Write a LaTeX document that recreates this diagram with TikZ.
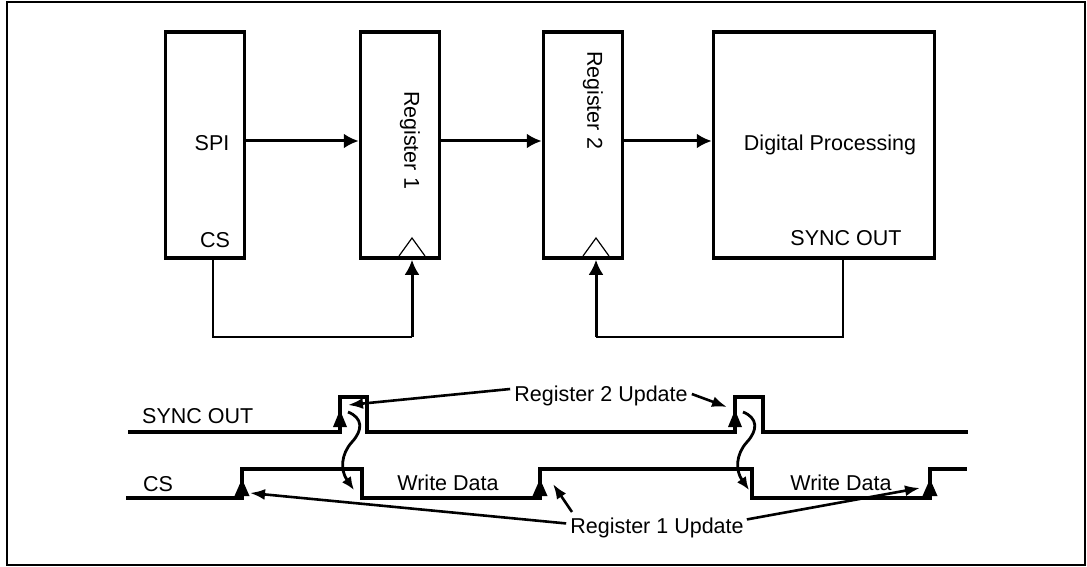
\documentclass[tikz,border=0pt]{standalone}
\usepackage{fontspec}
\setmainfont{Liberation Sans}
\usetikzlibrary{arrows.meta,calc}
\begin{document}
\begin{tikzpicture}[x=1pt,y=-1pt,
 blk/.style={draw, line width=3.5pt, minimum height=226pt, inner sep=0pt},
 lbl/.style={font=\fontsize{21.5}{24}\selectfont, inner sep=0pt},
 arr/.style={line width=3pt, -{Latex[length=15pt,width=15pt]}},
 thinl/.style={line width=1.2pt},
 wave/.style={line width=3.5pt},
 ptr/.style={line width=2.6pt, -{Latex[length=15pt,width=11pt]}},
 curv/.style={line width=2.8pt, -{Latex[length=13pt,width=11pt]}},
]
\useasboundingbox (0,0) rectangle (1087,567);
\draw[line width=2.2pt] (7,2) rectangle (1085,565);

% blocks
\node[blk, minimum width=79pt] (spi) at (205,145) {};
\node[blk, minimum width=79pt] (reg1) at (400,145) {};
\node[blk, minimum width=79pt] (reg2) at (583,145) {};
\node[blk, minimum width=221pt] (dp) at (824,145) {};

% block labels
\node[lbl, anchor=base] (spil) at (212,150) {SPI};
\node[lbl, anchor=base] (csl) at (215,247) {CS};
\node[lbl, rotate=-90] (r1l) at (410,140) {Register 1};
\node[lbl, rotate=-90] (r2l) at (593,100) {Register 2};
\node[lbl, anchor=base] (dpl) at (830,150) {Digital Processing};
\node[lbl, anchor=base] (sol) at (846,245) {SYNC OUT};

% data arrows
\coordinate (ya) at (0,141);
\draw[arr] (spi.east |- ya) -- (reg1.west |- ya);
\draw[arr] (reg1.east |- ya) -- (reg2.west |- ya);
\draw[arr] (reg2.east |- ya) -- (dp.west |- ya);

% clock triangles
\coordinate (k1) at (412,256);
\coordinate (k2) at (596,256);
\draw[thinl] ($(k1)+(-13,0)$) -- ($(k1)+(0,-18)$) -- ($(k1)+(13,0)$);
\draw[thinl] ($(k2)+(-13,0)$) -- ($(k2)+(0,-18)$) -- ($(k2)+(13,0)$);

% feedback
\coordinate (f1) at (213,337);
\coordinate (f2) at (843,337);
\draw[thinl] (spi.south -| f1) -- (f1) -- (f1 -| k1);
\draw[arr] (f1 -| k1) -- (reg1.south -| k1);
\draw[thinl] (dp.south -| f2) -- (f2) -- (f2 -| k2);
\draw[arr] (f2 -| k2) -- (reg2.south -| k2);

% timing labels
\node[lbl, anchor=base west] (tso) at (142,423) {SYNC OUT};
\node[lbl, anchor=base west] (tcs) at (143,491) {CS};
\node[lbl, anchor=base] (wd1) at (448,490) {Write Data};
\node[lbl, anchor=base] (wd2) at (841,490) {Write Data};
\node[lbl, anchor=base] (r2u) at (601,401) {Register 2 Update};
\node[lbl, anchor=base] (r1u) at (657,533) {Register 1 Update};

% waveforms
\draw[wave] (128,432) -- (340,432) -- (340,397) -- (367,397) -- (367,432) -- (735,432) -- (735,397) -- (763,397) -- (763,432) -- (968,432);
\draw[wave] (126,498) -- (242,498) -- (242,469) -- (362,469) -- (362,498) -- (540,498) -- (540,469) -- (752,469) -- (752,498) -- (930,498) -- (930,469) -- (967,469);

% rising-edge marks
\foreach \x in {242,540,930} \fill ($(\x,496)+(-7.5,0)$) -- ($(\x,496)+(7.5,0)$) -- (\x,479) -- cycle;
\foreach \x in {340,735} \fill ($(\x,427)+(-7,0)$) -- ($(\x,427)+(7,0)$) -- (\x,410) -- cycle;

% pointer arrows
\coordinate (p2a) at (348,405);
\coordinate (p2b) at (727,407);
\coordinate (p1a) at (250,493);
\coordinate (p1b) at (553,484);
\coordinate (p1c) at (920,488);
\draw[ptr] ($(r2u.west |- 0,389)+(-4,0)$) -- (p2a);
\draw[ptr] ($(r2u.east |- 0,394)+(4,0)$) -- (p2b);
\draw[ptr] ($(r1u.west)+(-4,-4)$) -- (p1a);
\draw[ptr] (572,512) -- (p1b);
\draw[ptr] ($(r1u.east)+(3,-8)$) -- (p1c);

% curvy arrows
\coordinate (s1) at (348,412);
\coordinate (e1) at (354,490);
\coordinate (s2) at (743,412);
\coordinate (e2) at (749,490);
\draw[curv] (s1) .. controls ($(s1)+(15,6)$) and ($(s1)+(15,18)$) .. ($(s1)+(4,30)$) .. controls ($(s1)+(-7,42)$) and ($(s1)+(-8,58)$) .. (e1);
\draw[curv] (s2) .. controls ($(s2)+(15,6)$) and ($(s2)+(15,18)$) .. ($(s2)+(4,30)$) .. controls ($(s2)+(-7,42)$) and ($(s2)+(-8,58)$) .. (e2);
\end{tikzpicture}
\end{document}
